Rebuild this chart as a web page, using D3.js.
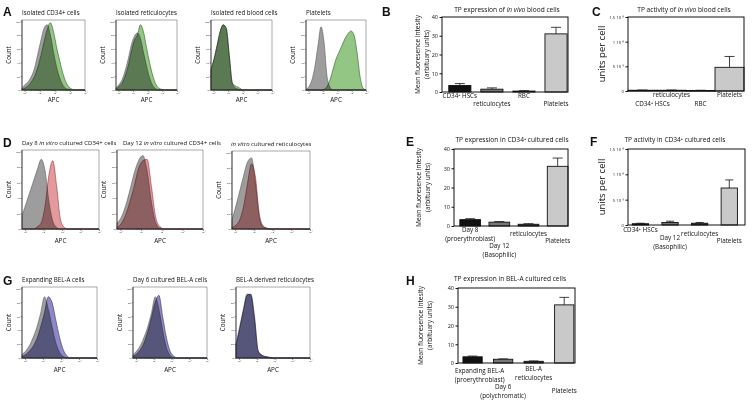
<!DOCTYPE html>
<html><head><meta charset="utf-8">
<script src="https://cdn.jsdelivr.net/npm/d3@7"></script>
<style>
body{margin:0;background:#fff}
text{font-family:"Open Sans","Lato",sans-serif;fill:#111}
.lbl{font-family:"Liberation Sans",Arial,sans-serif;font-weight:bold;font-size:12px}
</style></head>
<body>
<svg id="c" width="752" height="403"></svg>
<script>
// ---------- DATA ----------
// histogram sample grid (fraction of log-APC axis) and counts (fraction of axis max)
const histGrid = [0,0.05,0.1,0.15,0.2,0.25,0.3,0.35,0.4,0.45,0.5,0.55,0.6,0.65,0.7,0.75,0.8,0.85,0.9,0.95,1];
const histTickLabels = ["10¹","10²","10³","10⁴","10⁵"];
const countTickLabels = ["0","20","40","60","80","100"];

const A1gray  = [0.03,0.08,0.12,0.2,0.32,0.52,0.72,0.9,0.95,0.8,0.55,0.33,0.17,0.07,0.02,0.01,0,0,0,0,0];
const A1green = [0.01,0.03,0.06,0.12,0.2,0.33,0.5,0.7,0.88,0.98,0.85,0.62,0.42,0.24,0.11,0.04,0.01,0,0,0,0];
const A2gray  = [0.03,0.08,0.15,0.28,0.45,0.65,0.78,0.83,0.75,0.55,0.35,0.18,0.07,0.02,0,0,0,0,0,0,0];
const A2green = [0.01,0.05,0.1,0.2,0.35,0.55,0.72,0.8,0.95,0.85,0.62,0.4,0.22,0.09,0.03,0.01,0,0,0,0,0];
const A3gray  = [0.3,0.45,0.65,0.85,0.95,0.9,0.5,0.1,0.03,0.01,0,0,0,0,0,0,0,0,0,0,0];
const A3green = [0.3,0.45,0.65,0.85,0.95,0.9,0.5,0.1,0.06,0.04,0.01,0,0,0,0,0,0,0,0,0,0];
const A4gray  = [0.01,0.05,0.15,0.35,0.65,0.92,0.7,0.2,0.04,0,0,0,0,0,0,0,0,0,0,0,0];
const A4green = [0,0,0,0,0,0,0.01,0.05,0.15,0.3,0.45,0.55,0.65,0.75,0.82,0.86,0.8,0.55,0.2,0.03,0];
const D1gray  = [0.17,0.32,0.47,0.62,0.77,0.9,0.75,0.35,0.1,0.02,0,0,0,0,0,0,0,0,0,0,0];
const D1red   = [0,0,0,0,0.03,0.08,0.3,0.7,0.88,0.55,0.12,0.02,0,0,0,0,0,0,0,0,0];
const D2gray  = [0.08,0.15,0.3,0.5,0.72,0.88,0.95,0.75,0.35,0.08,0.01,0,0,0,0,0,0,0,0,0,0];
const D2red   = [0.02,0.07,0.18,0.35,0.55,0.78,0.88,0.9,0.55,0.15,0.03,0,0,0,0,0,0,0,0,0,0];
const D3gray  = [0.12,0.3,0.5,0.7,0.88,0.93,0.6,0.15,0.03,0.01,0,0,0,0,0,0,0,0,0,0,0];
const D3red   = [0.02,0.05,0.12,0.3,0.6,0.85,0.68,0.2,0.04,0.01,0,0,0,0,0,0,0,0,0,0,0];
const G1gray  = [0.05,0.1,0.18,0.3,0.45,0.65,0.88,0.7,0.45,0.22,0.08,0.02,0,0,0,0,0,0,0,0,0];
const G1blue  = [0.02,0.05,0.1,0.17,0.28,0.45,0.65,0.88,0.8,0.55,0.3,0.12,0.03,0,0,0,0,0,0,0,0];
const G2gray  = [0.05,0.1,0.18,0.3,0.45,0.65,0.88,0.7,0.4,0.15,0.04,0,0,0,0,0,0,0,0,0,0];
const G2blue  = [0.02,0.06,0.12,0.22,0.38,0.58,0.8,0.9,0.6,0.3,0.1,0.03,0,0,0,0,0,0,0,0,0];
const G3gray  = [0.2,0.45,0.7,0.92,0.9,0.55,0.1,0.04,0.02,0.01,0,0,0,0,0,0,0,0,0,0,0];
const G3blue  = [0.18,0.42,0.68,0.9,0.92,0.6,0.1,0.04,0.02,0.01,0,0,0,0,0,0,0,0,0,0,0];

// bar charts
const B_categories = [["CD34⁺ HSCs"],["reticulocytes"],["RBC"],["Platelets"]];
const B_values = [3.5,1.5,0.5,31];
const B_errors = [4.5,2.2,0.7,34.5];
const C_categories = [["CD34⁺ HSCs"],["reticulocytes"],["RBC"],["Platelets"]];
const C_values = [0.15e-9,0.15e-9,0.1e-9,4.8e-9];
const C_errors = [0.2e-9,0.2e-9,0.15e-9,7.0e-9];
const E_categories = [["Day 8","(proerythroblast)"],["Day 12","(Basophilic)"],["reticulocytes"],["Platelets"]];
const E_values = [3.3,2.0,0.9,31];
const E_errors = [3.8,2.3,1.2,35.3];
const F_categories = [["CD34⁺ HSCs"],["Day 12","(Basophilic)"],["reticulocytes"],["Platelets"]];
const F_values = [0.25e-9,0.5e-9,0.35e-9,7.3e-9];
const F_errors = [0.35e-9,0.75e-9,0.5e-9,8.9e-9];
const H_categories = [["Expanding BEL-A","(proerythroblast)"],["Day 6","(polychromatic)"],["BEL-A","reticulocytes"],["Platelets"]];
const H_values = [3.3,2.0,0.9,31];
const H_errors = [3.7,2.2,1.1,35];
const mfiTicks = [0,10,20,30,40];
const activityTicks = [0,5e-9,1e-8,1.5e-8];
const activityTickLabels = ["0","5 10⁻⁹","1 10⁻⁸","1.5 10⁻⁸"];

// ---------- DRAWING ----------
const svg = d3.select("#c");
svg.append("rect").attr("width",752).attr("height",403).attr("fill","#fff");

function richText(g, x, y, parts, size, anchor){
  const t = g.append("text").attr("x",x).attr("y",y).attr("font-size",size).attr("text-anchor",anchor||"start");
  parts.forEach(p=>{ const s=t.append("tspan").text(p[0]); if(p[1]) s.attr("font-style","italic"); });
  return t;
}
function panelLetter(x,y,l){ svg.append("text").attr("class","lbl").attr("x",x).attr("y",y).text(l); }

function histogram(x0,y0,w,h,title,gray,col,fill,stroke,apcY,titleDx,titleSize){
  const g = svg.append("g");
  const x = d3.scaleLinear().domain([0,1]).range([x0,x0+w]);
  const y = d3.scaleLinear().domain([0,1.02]).range([y0+h,y0]);
  const area = d3.area().x((d,i)=>x(histGrid[i])).y0(y(0)).y1(d=>y(d)).curve(d3.curveMonotoneX);
  g.append("path").datum(gray).attr("d",area).attr("fill","#9d9d9d").attr("stroke","#5a5a5a").attr("stroke-width",0.6);
  g.append("path").datum(col).attr("d",area).attr("fill",fill).attr("stroke",stroke).attr("stroke-width",0.6).style("mix-blend-mode","multiply");
  g.append("rect").attr("x",x0).attr("y",y0).attr("width",w).attr("height",h).attr("fill","none").attr("stroke","#555").attr("stroke-width",0.5);
  g.append("path").attr("d",`M${x0},${y0}V${y0+h}H${x0+w}`).attr("fill","none").attr("stroke","#222").attr("stroke-width",0.7);
  // axes
  const yAx = d3.axisLeft(y).tickValues([0,0.2,0.4,0.6,0.8,1.0]).tickSize(1.5).tickFormat((d,i)=>countTickLabels[i]);
  const ya = g.append("g").attr("transform",`translate(${x0},0)`).call(yAx);
  const xt = [0.04,0.28,0.52,0.76,1.0];
  const xAx = d3.axisBottom(x).tickValues(xt).tickSize(2).tickFormat((d,i)=>histTickLabels[i]);
  const xa = g.append("g").attr("transform",`translate(0,${y0+h})`).call(xAx);
  const minor=[];
  for(let k=0;k<xt.length-1;k++) for(let m=2;m<10;m++) minor.push(xt[k]+Math.log10(m)*(xt[k+1]-xt[k]));
  g.selectAll(".mn").data(minor).join("line").attr("x1",d=>x(d)).attr("x2",d=>x(d)).attr("y1",y0+h).attr("y2",y0+h+1).attr("stroke","#333").attr("stroke-width",0.4);
  [ya,xa].forEach(a=>{a.select(".domain").remove(); a.selectAll("line").attr("stroke","#333").attr("stroke-width",0.5); a.selectAll("text").attr("font-size",2.4).attr("fill","#333");});
  ya.selectAll("text").attr("x",-2.2);
  xa.selectAll("text").attr("y",2.5);
  g.append("text").attr("transform",`translate(${x0-11},${y0+h/2}) rotate(-90)`).attr("text-anchor","middle").attr("font-size",6.2).text("Count");
  richText(g,x0+(titleDx||0),y0-5,title,titleSize||6.2);
  g.append("text").attr("x",x0+w/2).attr("y",apcY).attr("text-anchor","middle").attr("font-size",6.3).text("APC");
}

const greenF="#93c585", greenS="#2f5d24";
const redF="#e39a9c", redS="#9b2f35";
const blueF="#8c89c6", blueS="#35336a";

panelLetter(3,16,"A");
histogram(22,20,63,70,[["Isolated CD34+ cells"]],A1gray,A1green,greenF,greenS,101.5);
histogram(116,20,61,70,[["Isolated reticulocytes"]],A2gray,A2green,greenF,greenS,101.5);
histogram(211,20,61,70,[["Isolated red blood cells"]],A3gray,A3green,greenF,greenS,101.5);
histogram(306,20,60,70,[["Platelets"]],A4gray,A4green,greenF,greenS,101.5);

panelLetter(3,147,"D");
histogram(22,150,77,79,[["Day 8 "],["in vitro",1],[" cultured CD34+ cells"]],D1gray,D1red,redF,redS,243,0,6.0);
histogram(117,150,86,79,[["Day 12 "],["in vitro",1],[" cultured CD34+ cells"]],D2gray,D2red,redF,redS,243,6,6.0);
histogram(232,151,78,78,[["in vitro",1],[" cultured reticulocytes"]],D3gray,D3red,redF,redS,243,-1,6.0);

panelLetter(3,285,"G");
histogram(22,287,75,71,[["Expanding BEL-A cells"]],G1gray,G1blue,blueF,blueS,372);
histogram(133,287,74,71,[["Day 6 cultured BEL-A cells"]],G2gray,G2blue,blueF,blueS,372);
histogram(236,287,74,71,[["BEL-A derived reticulocytes"]],G3gray,G3blue,blueF,blueS,372);

const barFills = ["#111","#777","#333","#c9c9c9"];
function barChart(cfg){
  const g = svg.append("g");
  const x = d3.scaleBand().domain(d3.range(cfg.cats.length)).range([cfg.x0,cfg.x1]).paddingInner(cfg.pi).paddingOuter(cfg.po).align(cfg.al);
  const y = d3.scaleLinear().domain([0,cfg.max]).range([cfg.y1,cfg.y0]);
  const fills = cfg.fills||barFills;
  // error bars
  cfg.vals.forEach((v,i)=>{
    const cx = x(i)+x.bandwidth()/2, cw = Math.min(5,x.bandwidth()*0.25);
    g.append("line").attr("x1",cx).attr("x2",cx).attr("y1",y(v)).attr("y2",y(cfg.errs[i])).attr("stroke","#111").attr("stroke-width",0.8);
    g.append("line").attr("x1",cx-cw).attr("x2",cx+cw).attr("y1",y(cfg.errs[i])).attr("y2",y(cfg.errs[i])).attr("stroke","#111").attr("stroke-width",0.8);
  });
  g.selectAll(".bar").data(cfg.vals).join("rect")
    .attr("x",(d,i)=>x(i)).attr("width",x.bandwidth())
    .attr("y",d=>y(d)).attr("height",d=>Math.max(0.6,y(0)-y(d)))
    .attr("fill",(d,i)=>fills[i]).attr("stroke","#111").attr("stroke-width",0.9);
  // frame
  g.append("rect").attr("x",cfg.x0).attr("y",cfg.y0).attr("width",cfg.x1-cfg.x0).attr("height",cfg.y1-cfg.y0).attr("fill","none").attr("stroke","#111").attr("stroke-width",1);
  const ax = d3.axisLeft(y).tickValues(cfg.ticks).tickSize(2.5).tickFormat((d,i)=>cfg.tickLabels?cfg.tickLabels[i]:d);
  const a = g.append("g").attr("transform",`translate(${cfg.x0},0)`).call(ax);
  a.select(".domain").remove();
  a.selectAll("line").attr("stroke","#111");
  a.selectAll("text").attr("font-size",cfg.tickSize||5.5).attr("x",-4);
  // category labels
  cfg.cats.forEach((lines,i)=>{
    const cx = x(i)+x.bandwidth()/2 + (cfg.lx?cfg.lx[i]:0);
    lines.forEach((ln,j)=>{
      g.append("text").attr("x",cx).attr("y",cfg.y1+cfg.ly[i]+j*8.5).attr("text-anchor","middle").attr("font-size",6.3).text(ln);
    });
  });
  richText(g,cfg.tx,cfg.ty,cfg.title,6.6,"middle");
  // y label
  if(cfg.ylab.length===2){
    g.append("text").attr("transform",`translate(${cfg.yl},${(cfg.y0+cfg.y1)/2}) rotate(-90)`).attr("text-anchor","middle").attr("font-size",6.6).text(cfg.ylab[0]);
    g.append("text").attr("transform",`translate(${cfg.yl+9},${(cfg.y0+cfg.y1)/2}) rotate(-90)`).attr("text-anchor","middle").attr("font-size",6.6).text(cfg.ylab[1]);
  } else {
    g.append("text").attr("transform",`translate(${cfg.yl},${(cfg.y0+cfg.y1)/2}) rotate(-90)`).attr("text-anchor","middle").attr("font-size",9.5).text(cfg.ylab[0]);
  }
}
const mfiLab = ["Mean fluoresence intesity","(arbituary units)"];

panelLetter(382,16,"B");
barChart({x0:442,x1:568,y0:17,y1:92,max:40,ticks:mfiTicks,cats:B_categories,vals:B_values,errs:B_errors,pi:0.31,po:0.12,al:0.88,
  ly:[6,14,6,14],title:[["TP expression of "],["in vivo",1],[" blood cells"]],tx:507,ty:12,ylab:mfiLab,yl:420});
panelLetter(592,16,"C");
barChart({x0:628,x1:744,y0:17,y1:91,max:1.5e-8,ticks:activityTicks,tickLabels:activityTickLabels,tickSize:4.2,cats:C_categories,vals:C_values,errs:C_errors,pi:0.0,po:0.0,al:0.5,
  lx:[10,0,0,0],ly:[15,6,15,6],title:[["TP activity of "],["in vivo",1],[" blood cells"]],tx:684,ty:12,ylab:["units per cell"],yl:605});
panelLetter(406,146,"E");
barChart({x0:454,x1:568,y0:149,y1:226,max:40,ticks:mfiTicks,cats:E_categories,vals:E_values,errs:E_errors,pi:0.29,po:0.1,al:1.0,
  ly:[6,22,10,17],title:[["TP expression in CD34⁺ cultured cells"]],tx:512,ty:142,ylab:mfiLab,yl:421});
panelLetter(590,146,"F");
barChart({x0:628,x1:745,y0:149,y1:225,max:1.5e-8,ticks:activityTicks,tickLabels:activityTickLabels,tickSize:4.2,cats:F_categories,vals:F_values,errs:F_errors,pi:0.45,po:0.2,al:0.36,
  ly:[7,15,11,18],title:[["TP activity in CD34⁺ cultured cells"]],tx:675,ty:142,ylab:["units per cell"],yl:605});
panelLetter(406,285,"H");
barChart({x0:458,x1:575,y0:288,y1:363,max:40,ticks:mfiTicks,cats:H_categories,vals:H_values,errs:H_errors,pi:0.37,po:0.1,al:0.81,
  lx:[7,0,0,0],ly:[10,26,8,30],title:[["TP expression in BEL-A cultured cells"]],tx:510,ty:281,ylab:mfiLab,yl:423});
</script>
</body></html>
